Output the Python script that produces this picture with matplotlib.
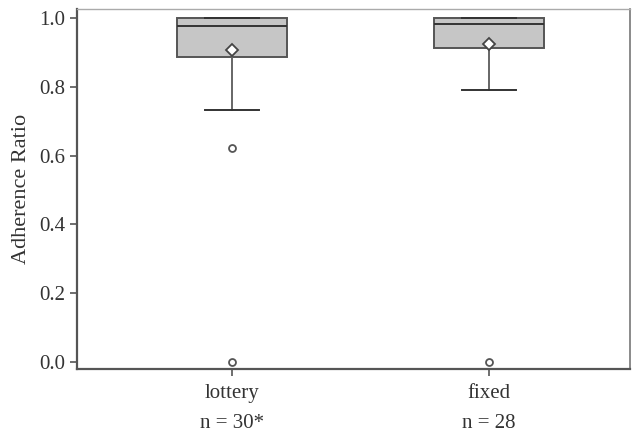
import matplotlib
matplotlib.use("Agg")
import matplotlib.pyplot as plt

# Summary statistics per condition
groups = ["lottery", "fixed"]
counts = ["n = 30*", "n = 28"]
whislo = [0.733, 0.791]
q1 = [0.887, 0.913]
med = [0.977, 0.983]
q3 = [1.0, 1.0]
whishi = [1.0, 1.0]
means = [0.907, 0.924]
fliers = [[0.622, 0.0], [0.0]]

plt.rcParams["font.family"] = ["Liberation Serif", "DejaVu Serif"]

stats = []
for i, g in enumerate(groups):
    stats.append({
        "label": f"{g}\n{counts[i]}",
        "whislo": whislo[i], "q1": q1[i], "med": med[i],
        "q3": q3[i], "whishi": whishi[i],
        "mean": means[i], "fliers": fliers[i],
    })

fig = plt.figure(figsize=(6.32, 4.33), dpi=100)
ax = fig.add_axes([0.122, 0.148, 0.875, 0.831])

edge = "#555555"
ax.bxp(
    stats,
    positions=[1, 2],
    widths=0.425,
    patch_artist=True,
    showmeans=True,
    capwidths=0.21,
    boxprops=dict(facecolor="#c6c6c6", edgecolor=edge, linewidth=1.4),
    medianprops=dict(color="#333333", linewidth=1.4),
    whiskerprops=dict(color="#666666", linewidth=1.4),
    capprops=dict(color="#333333", linewidth=1.4, zorder=4),
    meanprops=dict(marker="D", markerfacecolor="white", markeredgecolor="#444444",
                   markersize=6, markeredgewidth=1.3),
    flierprops=dict(marker="o", markerfacecolor="white", markeredgecolor="#555555",
                    markersize=5, markeredgewidth=1.3),
)

ax.set_xlim(0.397, 2.549)
ax.set_ylim(-0.02, 1.026)
ax.set_yticks([0.0, 0.2, 0.4, 0.6, 0.8, 1.0])
ax.set_yticklabels(["0.0", "0.2", "0.4", "0.6", "0.8", "1.0"])
ax.set_ylabel("Adherence Ratio", fontsize=16, color="#333333", labelpad=6)

for lbl in ax.get_xticklabels():
    lbl.set_linespacing(1.75)

ax.tick_params(axis="both", labelsize=15, labelcolor="#333333", color="#555555",
               length=5, width=1.2)
ax.tick_params(axis="x", pad=6)

ax.spines["left"].set_color("#555555")
ax.spines["bottom"].set_color("#555555")
ax.spines["left"].set_linewidth(1.6)
ax.spines["bottom"].set_linewidth(1.6)
ax.spines["top"].set_color("#aaaaaa")
ax.spines["top"].set_linewidth(1.0)
ax.spines["right"].set_color("#777777")
ax.spines["right"].set_linewidth(1.2)

fig.savefig("out.png", dpi=100)
